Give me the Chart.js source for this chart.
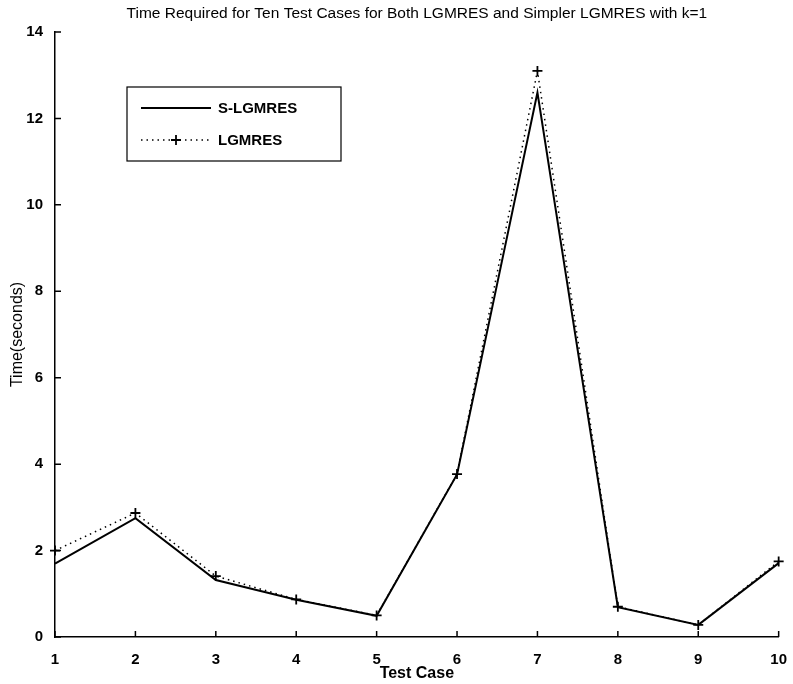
<!DOCTYPE html>
<html>
<head>
<meta charset="utf-8">
<script src="https://cdn.jsdelivr.net/npm/chart.js@4/dist/chart.umd.min.js"></script>
<style>
  html, body { margin: 0; padding: 0; background: #fff; }
  #wrap { width: 793px; height: 684px; }
</style>
</head>
<body>
<div id="wrap"><canvas id="chart" width="793" height="684"></canvas></div>
<script>
// data
const testCases = [1, 2, 3, 4, 5, 6, 7, 8, 9, 10];
const sLgmres = [1.70, 2.75, 1.32, 0.86, 0.49, 3.76, 12.6, 0.69, 0.28, 1.71];
const lgmres = [2.00, 2.87, 1.41, 0.87, 0.50, 3.77, 13.1, 0.70, 0.28, 1.75];
const yTicks = [0, 2, 4, 6, 8, 10, 12, 14];

const titleText = "Time Required for Ten Test Cases for Both LGMRES and Simpler LGMRES with k=1";
const FONT = "'Liberation Sans', Arial, sans-serif";

const pts = arr => arr.map((v, i) => ({x: testCases[i], y: v}));

// inward ticks, title, y label and legend box, like the original figure
const extras = {
    id: 'extras',
    afterDraw(chart) {
        const ctx = chart.ctx;
        const xs = chart.scales.x, ys = chart.scales.y;
        const area = chart.chartArea;
        ctx.save();
        ctx.strokeStyle = '#000';
        ctx.lineWidth = 1.5;
        ctx.beginPath();
        testCases.forEach(t => {
            const px = xs.getPixelForValue(t);
            ctx.moveTo(px, area.bottom);
            ctx.lineTo(px, area.bottom - 6);
        });
        yTicks.forEach(t => {
            const py = ys.getPixelForValue(t);
            ctx.moveTo(area.left, py);
            ctx.lineTo(area.left + 6, py);
        });
        ctx.stroke();

        ctx.fillStyle = '#000';
        ctx.font = "15.5px " + FONT;
        ctx.textAlign = 'center';
        ctx.textBaseline = 'middle';
        ctx.fillText(titleText, (area.left + area.right) / 2, 14);

        ctx.save();
        ctx.translate(18, (area.top + area.bottom) / 2);
        ctx.rotate(-Math.PI / 2);
        ctx.font = "16px " + FONT;
        ctx.fillText('Time(seconds)', 0, 0);
        ctx.restore();

        // legend
        const bx = 127, by = 87, bw = 214, bh = 74;
        ctx.lineWidth = 1.2;
        ctx.strokeRect(bx, by, bw, bh);
        ctx.font = "bold 15px " + FONT;
        ctx.textAlign = 'left';
        const rows = [
            {ds: chart.data.datasets[0], y: by + 21},
            {ds: chart.data.datasets[1], y: by + 53}
        ];
        rows.forEach(r => {
            ctx.save();
            ctx.lineWidth = r.ds.borderWidth;
            ctx.setLineDash(r.ds.borderDash || []);
            ctx.beginPath();
            ctx.moveTo(bx + 14, r.y);
            ctx.lineTo(bx + 84, r.y);
            ctx.stroke();
            ctx.restore();
            if (r.ds.pointStyle === 'cross') {
                const cx = bx + 49, s = 5;
                ctx.lineWidth = 1.8;
                ctx.beginPath();
                ctx.moveTo(cx - s, r.y); ctx.lineTo(cx + s, r.y);
                ctx.moveTo(cx, r.y - s); ctx.lineTo(cx, r.y + s);
                ctx.stroke();
            }
            ctx.fillText(r.ds.label, bx + 91, r.y + 1);
        });
        ctx.restore();
    }
};

new Chart(document.getElementById('chart').getContext('2d'), {
    type: 'line',
    data: {
        datasets: [{
            label: 'S-LGMRES',
            data: pts(sLgmres),
            borderColor: '#000',
            borderWidth: 2,
            pointRadius: 0,
            tension: 0,
            clip: false,
            order: 1
        }, {
            label: 'LGMRES',
            data: pts(lgmres),
            borderColor: '#000',
            borderWidth: 1.5,
            borderDash: [1.5, 4],
            pointStyle: 'cross',
            pointRadius: 5,
            pointBorderWidth: 1.8,
            pointBorderColor: '#000',
            tension: 0,
            clip: false,
            order: 2
        }]
    },
    options: {
        responsive: false,
        animation: false,
        layout: {padding: {top: 32, right: 9, left: 0, bottom: 0}},
        plugins: {legend: {display: false}, tooltip: {enabled: false}, title: {display: false}},
        scales: {
            x: {
                type: 'linear',
                min: 1, max: 10,
                afterFit: s => { s.height = 47; },
                grid: {display: false},
                border: {display: true, color: '#000', width: 1.5},
                ticks: {stepSize: 1, color: '#000', padding: 6, font: {family: FONT, size: 15, weight: 'bold'}},
                title: {display: true, text: 'Test Case', color: '#000', padding: {top: 0, bottom: 1},
                        font: {family: FONT, size: 16, weight: 'bold'}}
            },
            y: {
                min: 0, max: 14,
                afterFit: s => { s.width = 55; },
                afterBuildTicks: s => { s.ticks = yTicks.map(v => ({value: v})); },
                grid: {display: false},
                border: {display: true, color: '#000', width: 1.5},
                ticks: {color: '#000', padding: 4, font: {family: FONT, size: 15, weight: 'bold'}}
            }
        }
    },
    plugins: [extras]
});
</script>
</body>
</html>
